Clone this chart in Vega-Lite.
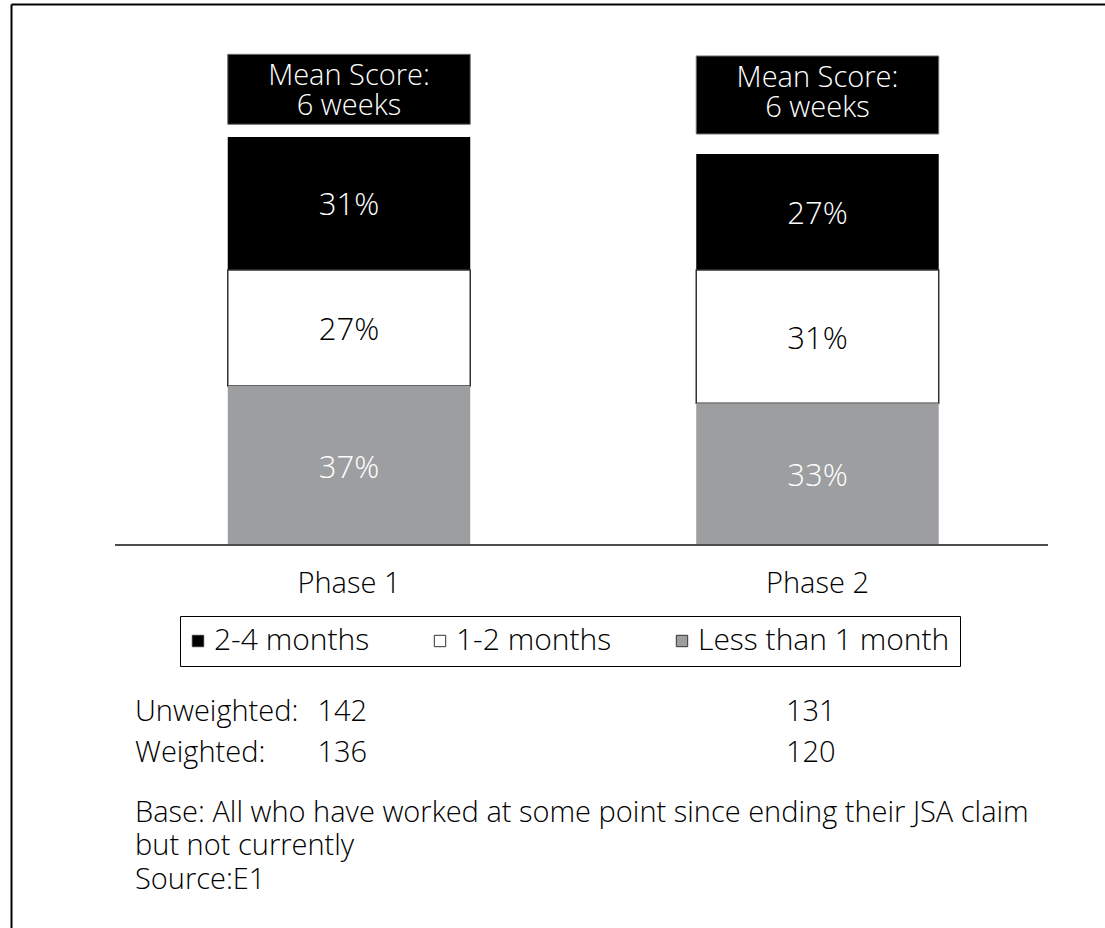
{
  "$schema": "https://vega.github.io/schema/vega-lite/v6.json",
  "width": 1094,
  "height": 924,
  "autosize": {"type": "none"},
  "padding": {"left": 11, "top": 4, "right": 0, "bottom": 0},
  "background": "white",
  "usermeta": {"embedOptions": {"actions": false}},
  "config": {
    "view": {"stroke": null},
    "font": "Open Sans",
    "axis": {"labels": false, "ticks": false, "grid": false, "domainColor": "#000000", "domainWidth": 2, "title": null},
    "text": {"font": "Open Sans", "fontSize": 29, "fontWeight": 300, "color": "#000000"}
  },
  "datasets": {
    "bars": [
      {"phase": "Phase 1", "cat": "2-4 months", "rank": 3, "pct": 0.31},
      {"phase": "Phase 1", "cat": "1-2 months", "rank": 2, "pct": 0.27},
      {"phase": "Phase 1", "cat": "Less than 1 month", "rank": 1, "pct": 0.37},
      {"phase": "Phase 2", "cat": "2-4 months", "rank": 3, "pct": 0.27},
      {"phase": "Phase 2", "cat": "1-2 months", "rank": 2, "pct": 0.31},
      {"phase": "Phase 2", "cat": "Less than 1 month", "rank": 1, "pct": 0.33}
    ],
    "counts": [
      {"group": "Unweighted", "phase": "Phase 1", "n": 142},
      {"group": "Unweighted", "phase": "Phase 2", "n": 131},
      {"group": "Weighted", "phase": "Phase 1", "n": 136},
      {"group": "Weighted", "phase": "Phase 2", "n": 120}
    ]
  },
  "layer": [
    {
      "data": {"name": "bars"},
      "mark": {"type": "bar", "strokeWidth": 1.5},
      "encoding": {
        "x": {"field": "phase", "type": "nominal",
              "scale": {"type": "band", "domain": ["Phase 1", "Phase 2"], "paddingInner": 0.4824, "paddingOuter": 0.4088, "align": 0.5659},
              "axis": {"orient": "top", "title": null}},
        "y": {"field": "pct", "type": "quantitative", "stack": "zero",
              "scale": {"domain": [-0.8915, 1.2593], "nice": false, "zero": false},
              "axis": {"title": null}},
        "color": {"field": "cat", "type": "nominal",
                  "scale": {"domain": ["2-4 months", "1-2 months", "Less than 1 month"], "range": ["#000000", "#ffffff", "#9d9ea0"]},
                  "legend": {"title": null, "orient": "none", "legendX": 169, "legendY": 612, "direction": "horizontal",
                             "symbolType": "square", "symbolSize": 130, "symbolStrokeColor": "#333333", "symbolStrokeWidth": 1,
                             "symbolOffset": -7,
                             "labelFontSize": 30, "labelFont": "Open Sans", "labelFontWeight": 300, "labelColor": "#000000", "labelOffset": 1,
                             "columnPadding": 62, "padding": 10, "strokeColor": "#000000", "fillColor": "#ffffff", "labelLimit": 0}},
        "order": {"field": "rank", "type": "quantitative"},
        "stroke": {"condition": {"test": "datum.cat === '1-2 months'", "value": "#333333"}, "value": "transparent"}
      }
    },
    {
      "data": {"name": "bars"},
      "mark": {"type": "text", "fontSize": 31, "baseline": "middle", "align": "center", "dy": 3},
      "encoding": {
        "x": {"field": "phase", "type": "nominal", "axis": {"orient": "top", "title": null}},
        "y": {"field": "pct", "type": "quantitative", "stack": "zero", "bandPosition": 0.5, "axis": {"title": null}},
        "detail": {"field": "cat"},
        "order": {"field": "rank", "type": "quantitative"},
        "text": {"field": "pct", "type": "quantitative", "format": ".0%"},
        "color": {"condition": {"test": "datum.cat === '1-2 months'", "value": "#000000"}, "value": "#ffffff"}
      }
    },
    {
      "data": {"values": [{"phase": "Phase 1"}]},
      "mark": {"type": "bar", "color": "#000000", "stroke": "#707070", "strokeWidth": 1},
      "encoding": {
        "x": {"field": "phase", "type": "nominal", "axis": {"orient": "top", "title": null}},
        "y": {"datum": 0.9793, "type": "quantitative", "axis": {"title": null}},
        "y2": {"datum": 1.1422}
      }
    },
    {
      "data": {"values": [{"phase": "Phase 2"}]},
      "mark": {"type": "bar", "color": "#000000", "stroke": "#707070", "strokeWidth": 1},
      "encoding": {
        "x": {"field": "phase", "type": "nominal", "axis": {"orient": "top", "title": null}},
        "y": {"datum": 0.9567, "type": "quantitative", "axis": {"title": null}},
        "y2": {"datum": 1.1383}
      }
    },
    {
      "data": {"values": [{"phase": "Phase 1", "label": "Mean Score:"}]},
      "mark": {"type": "text", "color": "#ffffff", "baseline": "middle"},
      "encoding": {
        "x": {"field": "phase", "type": "nominal", "axis": {"orient": "top", "title": null}},
        "y": {"datum": 1.0917, "type": "quantitative", "axis": {"title": null}},
        "text": {"field": "label"}
      }
    },
    {
      "data": {"values": [{"phase": "Phase 1", "label": "6 weeks"}]},
      "mark": {"type": "text", "color": "#ffffff", "baseline": "middle"},
      "encoding": {
        "x": {"field": "phase", "type": "nominal", "axis": {"orient": "top", "title": null}},
        "y": {"datum": 1.0219, "type": "quantitative", "axis": {"title": null}},
        "text": {"field": "label"}
      }
    },
    {
      "data": {"values": [{"phase": "Phase 2", "label": "Mean Score:"}]},
      "mark": {"type": "text", "color": "#ffffff", "baseline": "middle"},
      "encoding": {
        "x": {"field": "phase", "type": "nominal", "axis": {"orient": "top", "title": null}},
        "y": {"datum": 1.0871, "type": "quantitative", "axis": {"title": null}},
        "text": {"field": "label"}
      }
    },
    {
      "data": {"values": [{"phase": "Phase 2", "label": "6 weeks"}]},
      "mark": {"type": "text", "color": "#ffffff", "baseline": "middle"},
      "encoding": {
        "x": {"field": "phase", "type": "nominal", "axis": {"orient": "top", "title": null}},
        "y": {"datum": 1.0172, "type": "quantitative", "axis": {"title": null}},
        "text": {"field": "label"}
      }
    },
    {
      "data": {"values": [{"line": "baseline"}]},
      "mark": {"type": "rule", "color": "#4d4d4d", "strokeWidth": 2},
      "encoding": {
        "x": {"datum": "Phase 1", "bandPosition": -0.465, "axis": {"orient": "top", "title": null}},
        "x2": {"datum": "Phase 2", "bandPosition": 1.4505},
        "y": {"datum": 0, "type": "quantitative", "axis": {"title": null}}
      }
    },
    {
      "data": {"values": [{"phase": "Phase 1"}, {"phase": "Phase 2"}]},
      "mark": {"type": "text", "baseline": "middle"},
      "encoding": {
        "x": {"field": "phase", "type": "nominal", "axis": {"orient": "top", "title": null}},
        "y": {"datum": -0.0908, "type": "quantitative", "axis": {"title": null}},
        "text": {"field": "phase"}
      }
    },
    {
      "data": {"values": [{"label": "Unweighted:"}]},
      "mark": {"type": "text", "baseline": "middle", "align": "left"},
      "encoding": {
        "x": {"datum": "Phase 1", "bandPosition": -0.3825, "axis": {"orient": "top", "title": null}},
        "y": {"datum": -0.3887, "type": "quantitative", "axis": {"title": null}},
        "text": {"field": "label"}
      }
    },
    {
      "data": {"values": [{"label": "Weighted:"}]},
      "mark": {"type": "text", "baseline": "middle", "align": "left"},
      "encoding": {
        "x": {"datum": "Phase 1", "bandPosition": -0.3825, "axis": {"orient": "top", "title": null}},
        "y": {"datum": -0.4841, "type": "quantitative", "axis": {"title": null}},
        "text": {"field": "label"}
      }
    },
    {
      "data": {"name": "counts"},
      "transform": [{"filter": "datum.group === 'Unweighted'"}],
      "mark": {"type": "text", "baseline": "middle", "align": "right"},
      "encoding": {
        "x": {"field": "phase", "type": "nominal", "bandPosition": 0.575, "axis": {"orient": "top", "title": null}},
        "y": {"datum": -0.3887, "type": "quantitative", "axis": {"title": null}},
        "text": {"field": "n", "type": "quantitative"}
      }
    },
    {
      "data": {"name": "counts"},
      "transform": [{"filter": "datum.group === 'Weighted'"}],
      "mark": {"type": "text", "baseline": "middle", "align": "right"},
      "encoding": {
        "x": {"field": "phase", "type": "nominal", "bandPosition": 0.575, "axis": {"orient": "top", "title": null}},
        "y": {"datum": -0.4841, "type": "quantitative", "axis": {"title": null}},
        "text": {"field": "n", "type": "quantitative"}
      }
    },
    {
      "data": {"values": [{"note": "Base: All who have worked at some point since ending their JSA claim"}]},
      "mark": {"type": "text", "baseline": "middle", "align": "left"},
      "encoding": {
        "x": {"datum": "Phase 1", "bandPosition": -0.3825, "axis": {"orient": "top", "title": null}},
        "y": {"datum": -0.6238, "type": "quantitative", "axis": {"title": null}},
        "text": {"field": "note"}
      }
    },
    {
      "data": {"values": [{"note": "but not currently"}]},
      "mark": {"type": "text", "baseline": "middle", "align": "left"},
      "encoding": {
        "x": {"datum": "Phase 1", "bandPosition": -0.3825, "axis": {"orient": "top", "title": null}},
        "y": {"datum": -0.7006, "type": "quantitative", "axis": {"title": null}},
        "text": {"field": "note"}
      }
    },
    {
      "data": {"values": [{"note": "Source:E1"}]},
      "mark": {"type": "text", "baseline": "middle", "align": "left"},
      "encoding": {
        "x": {"datum": "Phase 1", "bandPosition": -0.3825, "axis": {"orient": "top", "title": null}},
        "y": {"datum": -0.780, "type": "quantitative", "axis": {"title": null}},
        "text": {"field": "note"}
      }
    }
  ]
}
